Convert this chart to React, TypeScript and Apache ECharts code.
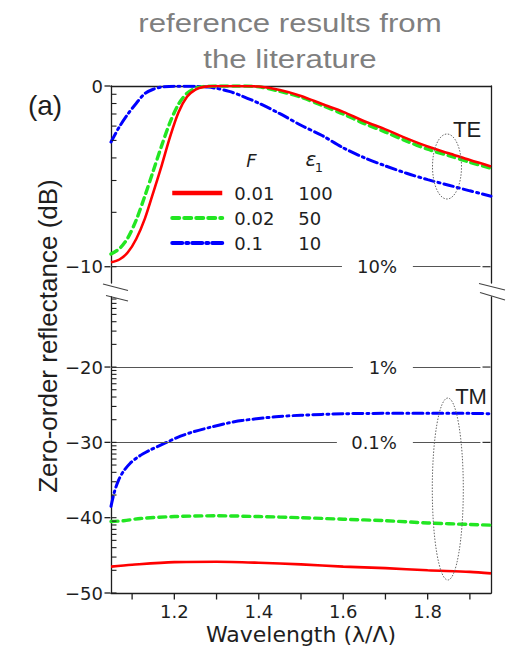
import React, { useEffect, useRef } from 'react';
import * as echarts from 'echarts';

const FT = 'DejaVu Sans';
const FA = 'Liberation Sans, Arial, sans-serif';
const INK = '#1e1e1e';

// ---------- data ----------
const SERIES_NAMES = ['0.01', '0.02', '0.1'];
const EPS1 = ['100', '50', '10'];

const TE_X = [1.05, 1.07, 1.09, 1.11, 1.13, 1.15, 1.17, 1.19, 1.21, 1.23, 1.25, 1.27, 1.3, 1.35, 1.4, 1.45, 1.5, 1.55, 1.6, 1.65, 1.7, 1.75, 1.8, 1.85, 1.9, 1.95];
const TE_RED = [-9.75, -9.6, -9.2, -8.45, -7.35, -5.9, -4.4, -2.8, -1.45, -0.6, -0.2, -0.05, 0, 0, -0.03, -0.22, -0.55, -1.0, -1.43, -1.95, -2.4, -2.9, -3.35, -3.72, -4.1, -4.45];
const TE_GREEN = [-9.3, -9.0, -8.4, -7.4, -6.1, -4.7, -3.3, -2.0, -1.0, -0.4, -0.12, -0.03, 0, 0, -0.05, -0.3, -0.62, -1.08, -1.55, -2.08, -2.55, -3.05, -3.5, -3.85, -4.22, -4.55];
const TE_BLUE_X = [1.05, 1.07, 1.09, 1.11, 1.13, 1.15, 1.17, 1.2, 1.25, 1.28, 1.3, 1.33, 1.36, 1.4, 1.45, 1.5, 1.55, 1.6, 1.65, 1.7, 1.75, 1.8, 1.85, 1.9, 1.95];
const TE_BLUE = [-3.1, -2.25, -1.55, -0.95, -0.42, -0.18, -0.06, -0.01, -0.02, -0.06, -0.13, -0.3, -0.55, -0.95, -1.53, -2.17, -2.74, -3.42, -3.97, -4.42, -4.83, -5.18, -5.49, -5.8, -6.1];

const TM_BLUE_X = [1.05, 1.058, 1.068, 1.08, 1.095, 1.11, 1.125, 1.145, 1.18, 1.205, 1.245, 1.285, 1.33, 1.36, 1.44, 1.5, 1.6, 1.7, 1.8, 1.9, 1.95];
const TM_BLUE = [-38.5, -36.6, -35.0, -33.8, -32.8, -32.1, -31.55, -30.95, -30.05, -29.4, -28.6, -28.0, -27.4, -27.1, -26.6, -26.4, -26.2, -26.15, -26.15, -26.15, -26.2];
const TM_GREEN_X = [1.05, 1.08, 1.12, 1.2, 1.3, 1.4, 1.5, 1.6, 1.7, 1.8, 1.9, 1.95];
const TM_GREEN = [-40.5, -40.4, -40.1, -39.85, -39.75, -39.85, -40.0, -40.2, -40.4, -40.7, -40.9, -41.0];
const TM_RED_X = [1.05, 1.1, 1.2, 1.3, 1.4, 1.5, 1.6, 1.7, 1.8, 1.9, 1.95];
const TM_RED = [-46.5, -46.25, -45.9, -45.85, -45.98, -46.2, -46.5, -46.7, -46.98, -47.2, -47.4];

const X_TICKS = [1.1, 1.2, 1.3, 1.4, 1.5, 1.6, 1.7, 1.8, 1.9];
const X_LABELS = [1.2, 1.4, 1.6, 1.8];
const Y_TOP_LABELS = [0, -10];
const Y_BOT_LABELS = [-20, -30, -40, -50];
const Y_RIGHT_TOP = [-10];
const Y_RIGHT_BOT = [-20, -30];
const MANTISSA = [0.9, 0.8, 0.7, 0.6, 0.5, 0.4, 0.3, 0.2];

// reference percentage lines: [dB, label, gapStart, gapEnd, labelX]
const REF_LINES: [number, string, number, number, number][] = [
  [-10, '10%', 1.597, 1.765, 1.68],
  [-20, '1%', 1.623, 1.765, 1.694],
  [-30, '0.1%', 1.585, 1.765, 1.673],
];

const X_MIN = 1.05;
const X_MAX = 1.95;
const TOP_MIN = -10.9;
const BOT_MAX = -10.7;

const minorTicks = (decades: number[]) => {
  const out: number[] = [];
  decades.forEach((d) => {
    MANTISSA.forEach((m) => out.push(10 * Math.log10(m) + d));
    out.push(d - 10);
  });
  return out;
};

const zip = (xs: number[], ys: number[]) => xs.map((x, i) => [x, ys[i]]);
const minus = (v: number) => String(v).replace('-', '\u2212');

const COLORS = ['#ff0000', '#22e622', '#0000ff'];
const LINE_TYPES: any[] = ['solid', [7, 5], [10, 4, 2, 4]];
const LINE_WIDTHS = [2.6, 3.4, 3];

export default function App() {
  const ref = useRef<HTMLDivElement>(null);
  useEffect(() => {
    if (!ref.current) return;
    const chart = echarts.init(ref.current, undefined, { renderer: 'svg' });

    const refMark = (rows: typeof REF_LINES) => ({
      markLine: {
        silent: true,
        symbol: 'none',
        label: { show: false },
        lineStyle: { color: '#555', width: 1, type: 'solid' },
        data: rows.flatMap(([y, , g0, g1]) => [
          [{ coord: [X_MIN, y] }, { coord: [g0, y] }],
          [{ coord: [g1, y] }, { coord: [1.925, y] }],
        ]),
      },
      markPoint: {
        silent: true,
        symbol: 'circle',
        symbolSize: 2,
        itemStyle: { color: 'rgba(0,0,0,0)' },
        label: { show: true, position: 'inside', formatter: '{b}', color: INK, fontSize: 18, fontFamily: FT },
        data: rows.map(([y, name, , , lx]) => ({ name, coord: [lx, y] })),
      },
    });

    const mk = (i: number, data: number[][], x: number, y: number, extra: any = {}) => ({
      type: 'line',
      name: SERIES_NAMES[i],
      xAxisIndex: x,
      yAxisIndex: y,
      data,
      symbol: 'none',
      smooth: 0.3,
      lineStyle: { color: COLORS[i], width: LINE_WIDTHS[i], type: LINE_TYPES[i], cap: i === 0 ? 'butt' : 'round' },
      itemStyle: { color: COLORS[i] },
      z: 3 - i + 2,
      ...extra,
    });

    // axis tick marks as tiny rect symbols positioned by the axes' scales
    const tickSeries = (name: string, x: number, y: number, data: number[][], size: number[], offset: number[]) => ({
      type: 'scatter',
      name,
      xAxisIndex: x,
      yAxisIndex: y,
      data,
      symbol: 'rect',
      symbolSize: size,
      symbolOffset: offset,
      itemStyle: { color: INK, opacity: 1 },
      silent: true,
      clip: false,
      z: 20,
      emphasis: { disabled: true },
    });

    const axisLine = { show: true, onZero: false, lineStyle: { color: INK, width: 1.3 } };
    const tickLabel = { color: INK, fontSize: 18, fontFamily: FT };
    const plainY = (grid: number, pos: string, min: number, max: number) => ({
      type: 'value', gridIndex: grid, position: pos, min, max, axisLine,
      axisTick: { show: false }, axisLabel: { show: false }, splitLine: { show: false },
    });

    const option: any = {
      animation: false,
      backgroundColor: '#fff',
      grid: [
        { left: 111, top: 86, width: 380, height: 197 },
        { left: 111, top: 297, width: 380, height: 296 },
      ],
      xAxis: [
        { type: 'value', gridIndex: 0, position: 'top', min: X_MIN, max: X_MAX, axisLine, axisTick: { show: false }, axisLabel: { show: false }, splitLine: { show: false } },
        {
          type: 'value', gridIndex: 1, position: 'bottom', min: X_MIN, max: X_MAX, axisLine,
          axisTick: { show: false },
          axisLabel: { ...tickLabel, customValues: X_LABELS, margin: 9, formatter: (v: number) => v.toFixed(1) },
          splitLine: { show: false },
          name: 'Wavelength (\u03bb/\u039b)', nameLocation: 'middle', nameGap: 30,
          nameTextStyle: { color: INK, fontSize: 22, fontFamily: FT },
        },
      ],
      yAxis: [
        {
          type: 'value', gridIndex: 0, position: 'left', min: TOP_MIN, max: 0, axisLine,
          axisTick: { show: false },
          axisLabel: { ...tickLabel, customValues: Y_TOP_LABELS, margin: 8, formatter: minus },
          splitLine: { show: false },
        },
        plainY(0, 'right', TOP_MIN, 0),
        {
          type: 'value', gridIndex: 1, position: 'left', min: -50, max: BOT_MAX, axisLine,
          axisTick: { show: false },
          axisLabel: { ...tickLabel, customValues: Y_BOT_LABELS, margin: 8, formatter: minus },
          splitLine: { show: false },
        },
        plainY(1, 'right', -50, BOT_MAX),
      ],
      legend: {
        left: 170,
        top: 183,
        orient: 'vertical',
        padding: 0,
        itemWidth: 50,
        itemHeight: 14,
        itemGap: 5,
        selectedMode: false,
        itemStyle: { opacity: 0 },
        data: SERIES_NAMES.map((n, i) => ({ name: n, itemStyle: { opacity: 0 }, lineStyle: { width: i === 0 ? 4.5 : 4 } })),
        formatter: (name: string) => `{a|${name}}{b|${EPS1[SERIES_NAMES.indexOf(name)]}}`,
        textStyle: {
          color: INK, fontSize: 18, fontFamily: FT, lineHeight: 20, padding: [0, 0, 0, 7],
          rich: {
            a: { width: 64, fontSize: 18, fontFamily: FT, color: INK, lineHeight: 20 },
            b: { fontSize: 18, fontFamily: FT, color: INK, lineHeight: 20 },
          },
        },
      },
      series: [
        mk(2, zip(TE_BLUE_X, TE_BLUE), 0, 0),
        mk(1, zip(TE_X, TE_GREEN), 0, 0),
        mk(0, zip(TE_X, TE_RED), 0, 0, refMark([REF_LINES[0]])),
        mk(2, zip(TM_BLUE_X, TM_BLUE), 1, 2),
        mk(1, zip(TM_GREEN_X, TM_GREEN), 1, 2),
        mk(0, zip(TM_RED_X, TM_RED), 1, 2, refMark(REF_LINES.slice(1))),
        tickSeries('xticks', 1, 2, X_TICKS.map((v) => [v, -50]), [1.3, 6], [0, 3.5]),
        tickSeries('ytop', 0, 0, Y_TOP_LABELS.map((v) => [X_MIN, v]), [6, 1.3], [-3.5, 0]),
        tickSeries('ybot', 1, 2, Y_BOT_LABELS.map((v) => [X_MIN, v]), [6, 1.3], [-3.5, 0]),
        tickSeries('ytopMinor', 0, 0, minorTicks([0]).filter((v) => v >= TOP_MIN).map((v) => [X_MIN, v]), [5, 1.1], [3, 0]),
        tickSeries('ybotMinor', 1, 2, minorTicks([-10, -20, -30, -40]).filter((v) => v <= BOT_MAX).map((v) => [X_MIN, v]), [5, 1.1], [3, 0]),
        tickSeries('yrTop', 0, 0, Y_RIGHT_TOP.map((v) => [X_MAX, v]), [8, 1.1], [-4.5, 0]),
        tickSeries('yrBot', 1, 2, Y_RIGHT_BOT.map((v) => [X_MAX, v]), [8, 1.1], [-4.5, 0]),
      ],
      graphic: [
        { type: 'text', x: 290, y: 23, scaleX: 1.2, style: { text: 'reference results from', fontSize: 26, fontFamily: FA, fill: '#7f7f7f', textAlign: 'center', textVerticalAlign: 'middle' } },
        { type: 'text', x: 290, y: 59, scaleX: 1.2, style: { text: 'the literature', fontSize: 26, fontFamily: FA, fill: '#7f7f7f', textAlign: 'center', textVerticalAlign: 'middle' } },
        { type: 'text', x: 45, y: 105, style: { text: '(a)', fontSize: 28, fontFamily: FA, fill: INK, textAlign: 'center', textVerticalAlign: 'middle' } },
        { type: 'text', x: 48, y: 336, rotation: Math.PI / 2, style: { text: 'Zero-order reflectance (dB)', fontSize: 26, fontFamily: FA, fill: INK, textAlign: 'center', textVerticalAlign: 'middle' } },
        { type: 'text', x: 251.5, y: 160, style: { text: 'F', fontSize: 18, fontStyle: 'italic', fontFamily: FT, fill: INK, textAlign: 'center', textVerticalAlign: 'middle' } },
        { type: 'text', x: 311, y: 159, style: { text: '\u03b5', fontSize: 20, fontStyle: 'italic', fontFamily: FT, fill: INK, textAlign: 'center', textVerticalAlign: 'middle' } },
        { type: 'text', x: 319, y: 167, style: { text: '1', fontSize: 13, fontFamily: FT, fill: INK, textAlign: 'center', textVerticalAlign: 'middle' } },
        { type: 'text', x: 467, y: 129, style: { text: 'TE', fontSize: 22, fontFamily: FA, fill: INK, textAlign: 'center', textVerticalAlign: 'middle' } },
        { type: 'text', x: 471, y: 396, style: { text: 'TM', fontSize: 22, fontFamily: FA, fill: INK, textAlign: 'center', textVerticalAlign: 'middle' } },
        { type: 'ellipse', shape: { cx: 447, cy: 166.5, rx: 14.5, ry: 32.5 }, style: { fill: 'none', stroke: '#666', lineWidth: 1, lineDash: [1.5, 1.5] }, z: 10 },
        { type: 'ellipse', shape: { cx: 447.8, cy: 489, rx: 15.5, ry: 91 }, style: { fill: 'none', stroke: '#666', lineWidth: 1, lineDash: [1.5, 1.5] }, z: 10 },
        { type: 'line', shape: { x1: 103, y1: 284, x2: 128, y2: 290.5 }, style: { stroke: '#444', lineWidth: 1.2 } },
        { type: 'line', shape: { x1: 106, y1: 295.5, x2: 128, y2: 301 }, style: { stroke: '#444', lineWidth: 1.2 } },
        { type: 'line', shape: { x1: 479, y1: 283.5, x2: 505, y2: 290 }, style: { stroke: '#444', lineWidth: 1.2 } },
        { type: 'line', shape: { x1: 480, y1: 292.5, x2: 505, y2: 300 }, style: { stroke: '#444', lineWidth: 1.2 } },
      ],
    };

    chart.setOption(option);
    return () => chart.dispose();
  }, []);

  return <div ref={ref} style={{ position: 'fixed', left: 0, top: 0, width: 515, height: 652 }} />;
}
